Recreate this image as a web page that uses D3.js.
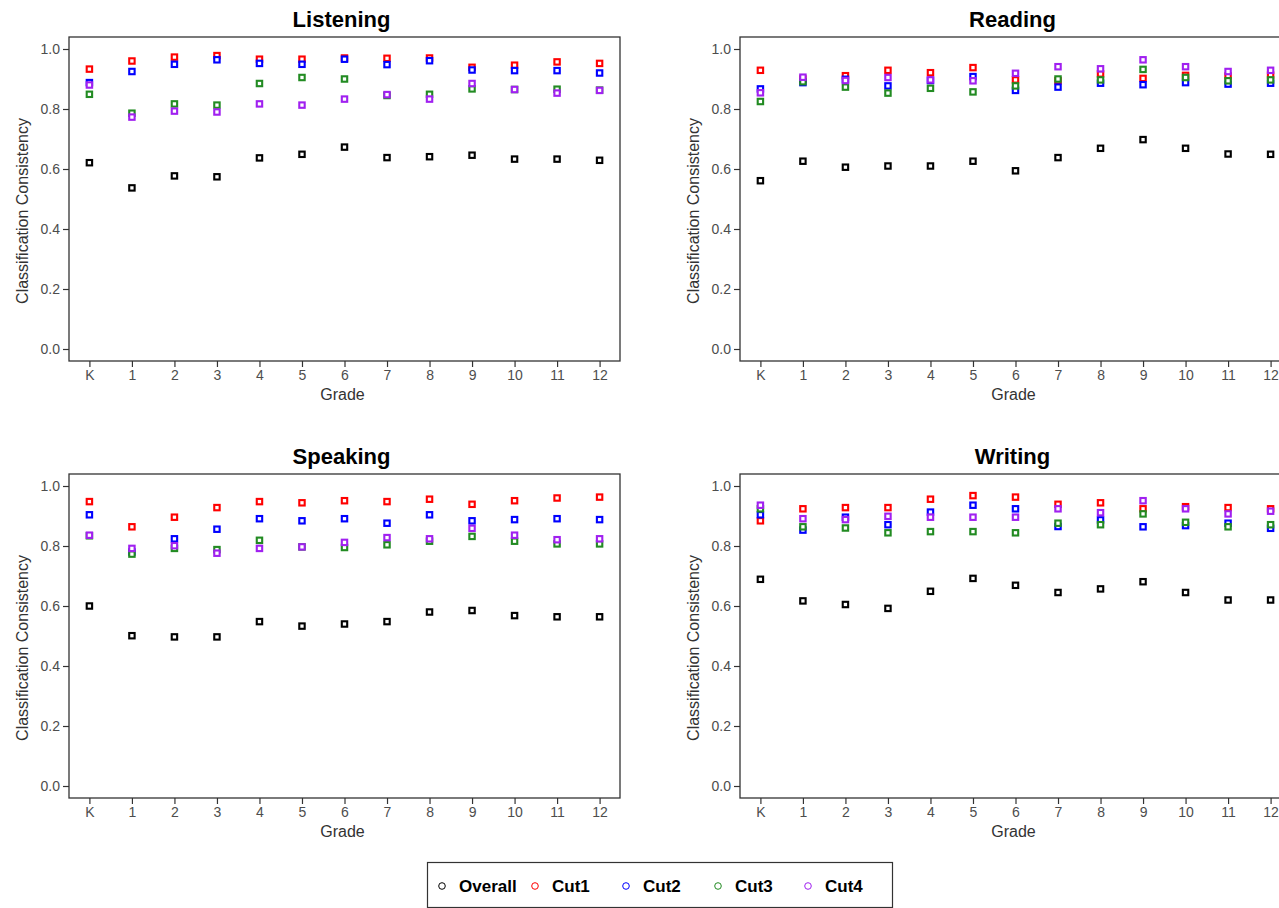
<!DOCTYPE html>
<html><head><meta charset="utf-8">
<script src="https://cdn.jsdelivr.net/npm/d3@7"></script>
<style>html,body{margin:0;padding:0;background:#fff;overflow:hidden}svg{display:block;font-family:"Liberation Sans",Arial,sans-serif}</style>
</head><body><svg id="c" width="1279" height="908"></svg>
<script>
const grades = ["K","1","2","3","4","5","6","7","8","9","10","11","12"];
const yTicks = [0.0,0.2,0.4,0.6,0.8,1.0];
const seriesNames = ["Overall","Cut1","Cut2","Cut3","Cut4"];
const seriesColors = ["#000000","#ff0000","#0000ff","#228b22","#a020f0"];
const panelTitles = ["Listening","Reading","Speaking","Writing"];

const listeningOverall = [0.621,0.537,0.577,0.574,0.637,0.649,0.673,0.638,0.641,0.646,0.633,0.633,0.629];
const listeningCut1 = [0.933,0.960,0.973,0.978,0.966,0.966,0.970,0.969,0.970,0.939,0.946,0.957,0.952];
const listeningCut2 = [0.888,0.925,0.949,0.964,0.952,0.949,0.966,0.948,0.961,0.930,0.928,0.928,0.920];
const listeningCut3 = [0.849,0.786,0.817,0.813,0.885,0.905,0.900,0.845,0.849,0.867,0.865,0.866,0.863];
const listeningCut4 = [0.880,0.773,0.793,0.790,0.817,0.813,0.833,0.848,0.833,0.885,0.865,0.853,0.862];

const readingOverall = [0.561,0.626,0.606,0.610,0.610,0.626,0.594,0.638,0.669,0.698,0.669,0.650,0.649];
const readingCut1 = [0.929,0.900,0.911,0.929,0.921,0.938,0.897,0.894,0.917,0.902,0.912,0.910,0.913];
const readingCut2 = [0.867,0.888,0.899,0.877,0.895,0.908,0.862,0.873,0.886,0.881,0.888,0.883,0.886];
const readingCut3 = [0.825,0.891,0.873,0.853,0.869,0.857,0.877,0.900,0.897,0.932,0.905,0.894,0.897];
const readingCut4 = [0.854,0.906,0.895,0.905,0.897,0.894,0.919,0.941,0.934,0.964,0.941,0.925,0.929];

const speakingOverall = [0.600,0.501,0.497,0.497,0.548,0.533,0.540,0.548,0.580,0.585,0.568,0.564,0.564];
const speakingCut1 = [0.948,0.864,0.896,0.928,0.948,0.944,0.951,0.948,0.956,0.939,0.951,0.960,0.963];
const speakingCut2 = [0.904,0.780,0.824,0.856,0.891,0.884,0.891,0.876,0.904,0.884,0.888,0.891,0.888];
const speakingCut3 = [0.834,0.773,0.792,0.788,0.819,0.797,0.795,0.804,0.816,0.832,0.816,0.807,0.807];
const speakingCut4 = [0.836,0.792,0.801,0.776,0.792,0.797,0.812,0.828,0.824,0.859,0.836,0.821,0.824];

const writingOverall = [0.689,0.617,0.605,0.592,0.649,0.692,0.669,0.645,0.657,0.681,0.645,0.620,0.620];
const writingCut1 = [0.884,0.924,0.928,0.928,0.956,0.968,0.963,0.939,0.944,0.924,0.931,0.928,0.924];
const writingCut2 = [0.904,0.853,0.896,0.871,0.913,0.936,0.924,0.865,0.887,0.864,0.868,0.876,0.859];
const writingCut3 = [0.924,0.864,0.860,0.844,0.848,0.848,0.844,0.876,0.871,0.907,0.879,0.864,0.871];
const writingCut4 = [0.936,0.891,0.888,0.899,0.896,0.896,0.896,0.924,0.911,0.951,0.924,0.907,0.916];

const panels = [
  [listeningOverall,listeningCut1,listeningCut2,listeningCut3,listeningCut4],
  [readingOverall,readingCut1,readingCut2,readingCut3,readingCut4],
  [speakingOverall,speakingCut1,speakingCut2,speakingCut3,speakingCut4],
  [writingOverall,writingCut1,writingCut2,writingCut3,writingCut4]
];

const svg = d3.select("#c");
const W = {left:69, right:620, top:37, bottom:361};
const offX = [0,671], offY = [0,437];

const x = d3.scaleLinear().domain([-0.48,12.48]).range([W.left,W.right]);
const y = d3.scaleLinear().domain([-0.04,1.04]).range([W.bottom,W.top]);

panels.forEach((series,pi)=>{
  const g = svg.append("g").attr("transform",`translate(${offX[pi%2]},${offY[Math.floor(pi/2)]})`);
  g.append("text").attr("x",(W.left+W.right)/2-3).attr("y",27).attr("text-anchor","middle")
    .attr("font-size",22).attr("font-weight","bold").attr("fill","#000").text(panelTitles[pi]);
  const ya = g.append("g").attr("transform",`translate(${W.left},0)`)
    .call(d3.axisLeft(y).tickValues(yTicks).tickFormat(d3.format(".1f")).tickSize(6).tickPadding(3).tickSizeOuter(0));
  ya.select(".domain").remove();
  ya.selectAll("line").attr("stroke","#333").attr("stroke-width",1.2);
  ya.selectAll("text").attr("font-size",14).attr("fill","#4d4d4d").attr("font-family","Liberation Sans, Arial, sans-serif");
  const xa = g.append("g").attr("transform",`translate(0,${W.bottom})`)
    .call(d3.axisBottom(x).tickValues(d3.range(grades.length)).tickFormat(i=>grades[i]).tickSize(6).tickPadding(3).tickSizeOuter(0));
  xa.select(".domain").remove();
  xa.selectAll("line").attr("stroke","#333").attr("stroke-width",1.2);
  xa.selectAll("text").attr("font-size",14).attr("fill","#4d4d4d").attr("font-family","Liberation Sans, Arial, sans-serif");
  g.append("rect").attr("x",W.left).attr("y",W.top).attr("width",W.right-W.left).attr("height",W.bottom-W.top)
    .attr("fill","none").attr("stroke","#333").attr("stroke-width",1.3);
  g.append("text").attr("transform",`translate(28,${(W.top+W.bottom)/2+12}) rotate(-90)`).attr("text-anchor","middle")
    .attr("font-size",16).attr("fill","#333").text("Classification Consistency");
  g.append("text").attr("x",(W.left+W.right)/2-2).attr("y",400).attr("text-anchor","middle")
    .attr("font-size",16).attr("fill","#333").text("Grade");
  series.forEach((vals,si)=>{
    g.append("g").selectAll("rect").data(vals).join("rect")
      .attr("x",(d,i)=>x(i)-2.7).attr("y",d=>y(d)-2.7).attr("width",5.4).attr("height",5.4)
      .attr("fill","#fff").attr("stroke",seriesColors[si]).attr("stroke-width",2.1);
  });
});

const lg = svg.append("g");
lg.append("rect").attr("x",427.5).attr("y",862.5).attr("width",465).attr("height",45)
  .attr("fill","#fff").attr("stroke","#333").attr("stroke-width",1.2);
const legX = [442,535,626,718,808];
seriesNames.forEach((n,i)=>{
  lg.append("circle").attr("cx",legX[i]).attr("cy",886).attr("r",3.3).attr("fill","none")
    .attr("stroke",seriesColors[i]).attr("stroke-width",1);
  lg.append("text").attr("x",legX[i]+17).attr("y",892).attr("font-size",17).attr("font-weight","bold")
    .attr("fill","#000").text(n);
});
</script></body></html>
